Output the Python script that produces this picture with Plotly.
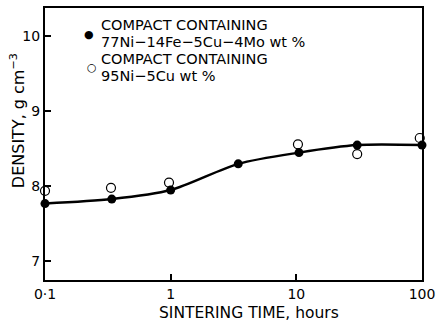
import plotly.graph_objects as go

# Data
time_filled = [0.1, 0.34, 1.0, 3.45, 10.5, 30.5, 100]
dens_filled = [7.77, 7.83, 7.95, 8.30, 8.45, 8.55, 8.55]
time_open = [0.1, 0.335, 0.97, 10.3, 30.5, 96]
dens_open = [7.94, 7.98, 8.05, 8.56, 8.43, 8.645]

x_ticks = [0.1, 1, 10, 100]
x_ticktext = ["0·1", "1", "10", "100"]
y_ticks = [7, 8, 9, 10]

legend_lines_1 = ["COMPACT CONTAINING", "77Ni−14Fe−5Cu−4Mo wt %"]
legend_lines_2 = ["COMPACT CONTAINING", "95Ni−5Cu wt %"]

FONT = "DejaVu Sans"
W, H = 444, 326
ML, MR, MT, MB = 45, 22, 6, 46
PW, PH = W - ML - MR, H - MT - MB


def px_x(px):
    return (px - ML) / PW


def px_y(py):
    return 1 - (py - MT) / PH


fig = go.Figure()
fig.add_trace(go.Scatter(
    x=time_filled, y=dens_filled, mode="lines+markers",
    line=dict(color="black", width=2.5, shape="spline", smoothing=0.8),
    marker=dict(symbol="circle", size=9, color="black"),
    cliponaxis=False, showlegend=False,
))
fig.add_trace(go.Scatter(
    x=time_open, y=dens_open, mode="markers",
    marker=dict(symbol="circle-open", size=9, color="black", line=dict(width=1.2)),
    cliponaxis=False, showlegend=False,
))

annotations = []
# legend symbols and text
annotations.append(dict(x=px_x(89), y=px_y(33), xref="paper", yref="paper", text="●",
                        showarrow=False, font=dict(family=FONT, size=11, color="black"),
                        xanchor="center", yanchor="middle"))
annotations.append(dict(x=px_x(92), y=px_y(66), xref="paper", yref="paper", text="○",
                        showarrow=False, font=dict(family=FONT, size=11, color="black"),
                        xanchor="center", yanchor="middle"))
for txt, yc in zip(legend_lines_1 + legend_lines_2, [23.5, 40.5, 57.5, 74.5]):
    annotations.append(dict(x=px_x(99), y=px_y(yc), xref="paper", yref="paper", text=txt,
                            showarrow=False, font=dict(family=FONT, size=14.5, color="black"),
                            xanchor="left", yanchor="middle"))
# axis titles
annotations.append(dict(x=px_x(249), y=px_y(313), xref="paper", yref="paper",
                        text="SINTERING TIME, hours", showarrow=False,
                        font=dict(family=FONT, size=15.5, color="black"),
                        xanchor="center", yanchor="middle"))
annotations.append(dict(x=px_x(17), y=px_y(120), xref="paper", yref="paper",
                        text="DENSITY, g cm<sup>−3</sup>", showarrow=False, textangle=-90,
                        font=dict(family=FONT, size=16, color="black"),
                        xanchor="center", yanchor="middle"))

fig.update_layout(
    width=W, height=H,
    margin=dict(l=ML, r=MR, t=MT, b=MB),
    paper_bgcolor="white", plot_bgcolor="white",
    font=dict(family=FONT, color="black"),
    annotations=annotations,
    xaxis=dict(type="log", range=[-1, 2], tickvals=x_ticks, ticktext=x_ticktext,
               ticks="inside", ticklen=6, tickwidth=1.5, tickcolor="black",
               showline=True, linecolor="black", linewidth=2, mirror=True,
               showgrid=False, zeroline=False,
               tickfont=dict(family=FONT, size=14, color="black")),
    yaxis=dict(range=[6.75, 10.38], tickvals=y_ticks,
               ticks="inside", ticklen=6, tickwidth=1.5, tickcolor="black",
               showline=True, linecolor="black", linewidth=2, mirror=True,
               showgrid=False, zeroline=False,
               tickfont=dict(family=FONT, size=14, color="black")),
)

fig.write_html("out.html")
